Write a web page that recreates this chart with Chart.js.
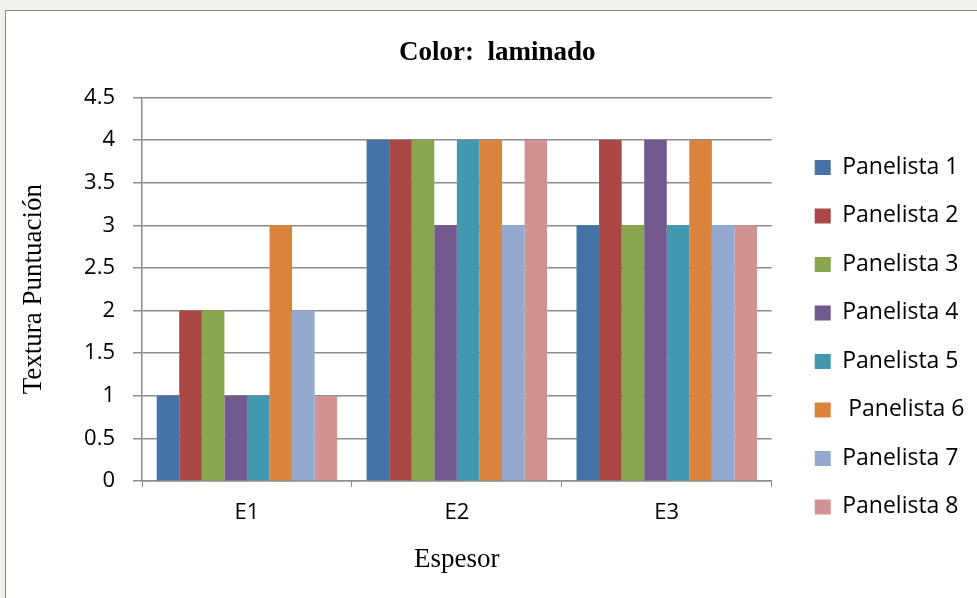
<!DOCTYPE html>
<html>
<head>
<meta charset="utf-8">
<script src="https://cdn.jsdelivr.net/npm/chart.js@4.4.1/dist/chart.umd.min.js"></script>
<style>
  html, body { margin: 0; padding: 0; background: #eef1ec; overflow: hidden; }
  #frame { position: absolute; left: 5px; top: 10px; width: 1000px; height: 620px; background: #fff; border: 1px solid #8a8a8a; }
  #wrap { position: absolute; left: 0; top: 0; width: 977px; height: 598px; }
</style>
</head>
<body>
<div id="frame"></div>
<div id="wrap"><canvas id="chart" width="977" height="598"></canvas></div>
<script>
const categories = ['E1', 'E2', 'E3'];
const panelistas = ['Panelista 1', 'Panelista 2', 'Panelista 3', 'Panelista 4', 'Panelista 5', ' Panelista 6', 'Panelista 7', 'Panelista 8'];
const colores = ['#4572A7', '#AA4643', '#89A54E', '#71588F', '#4198AF', '#DB843D', '#93A9CF', '#D19392'];

const panelista1 = [1, 4, 3];
const panelista2 = [2, 4, 4];
const panelista3 = [2, 4, 3];
const panelista4 = [1, 3, 4];
const panelista5 = [1, 4, 3];
const panelista6 = [3, 4, 4];
const panelista7 = [2, 3, 3];
const panelista8 = [1, 4, 3];

const valores = [panelista1, panelista2, panelista3, panelista4, panelista5, panelista6, panelista7, panelista8];
const yTicks = [0, 0.5, 1, 1.5, 2, 2.5, 3, 3.5, 4, 4.5];

const serif = '"Liberation Serif", "Times New Roman", serif';
const sans = '"Open Sans", "Liberation Sans", sans-serif';
const grey = '#8c8c8c';

const datasets = valores.map((v, i) => ({
    label: panelistas[i],
    data: v,
    backgroundColor: colores[i],
    borderWidth: 0,
    barPercentage: 1,
    categoryPercentage: 0.86
}));

new Chart(document.getElementById('chart'), {
    type: 'bar',
    data: { labels: categories, datasets: datasets },
    options: {
        responsive: false,
        animation: false,
        layout: { padding: { left: 20, right: 2.5, top: 0, bottom: 0 } },
        plugins: {
            title: {
                display: true,
                text: 'Color:  laminado',
                font: { family: serif, size: 27, weight: 'bold' },
                color: '#000',
                padding: { top: 37, bottom: 28 }
            },
            legend: {
                position: 'right',
                align: 'start',
                maxWidth: 260,
                title: { display: true, text: '', padding: { top: 116, bottom: 0 } },
                labels: {
                    boxWidth: 16,
                    boxHeight: 15,
                    padding: 25.5,
                    color: '#000',
                    font: { family: sans, size: 23 }
                }
            },
            tooltip: { enabled: false }
        },
        scales: {
            x: {
                grid: { drawOnChartArea: false, drawTicks: true, tickLength: 6, color: grey, offset: true },
                border: { color: grey, width: 1.5 },
                ticks: { padding: 13, font: { family: sans, size: 22 }, color: '#000' },
                title: { display: true, text: 'Espesor', font: { family: serif, size: 27 }, color: '#000', padding: { top: 4, bottom: 22 } },
                afterFit: s => { s.height = 117; }
            },
            y: {
                min: 0,
                max: 4.5,
                afterBuildTicks: s => { s.ticks = yTicks.map(v => ({ value: v })); },
                grid: { color: grey, lineWidth: 1.5, tickLength: 9 },
                border: { color: grey, width: 1.5 },
                ticks: { padding: 18, font: { family: sans, size: 22 }, color: '#000', callback: v => String(v) },
                title: { display: true, text: 'Textura Puntuación', font: { family: serif, size: 27 }, color: '#000', padding: { top: -2, bottom: 0 } },
                afterFit: s => { s.width = 122; }
            },
            y2: {
                position: 'right',
                display: true,
                grid: { display: false, drawTicks: false },
                border: { display: false },
                ticks: { display: false },
                afterFit: s => { s.width = 17.5; }
            }
        }
    }
});
</script>
</body>
</html>
